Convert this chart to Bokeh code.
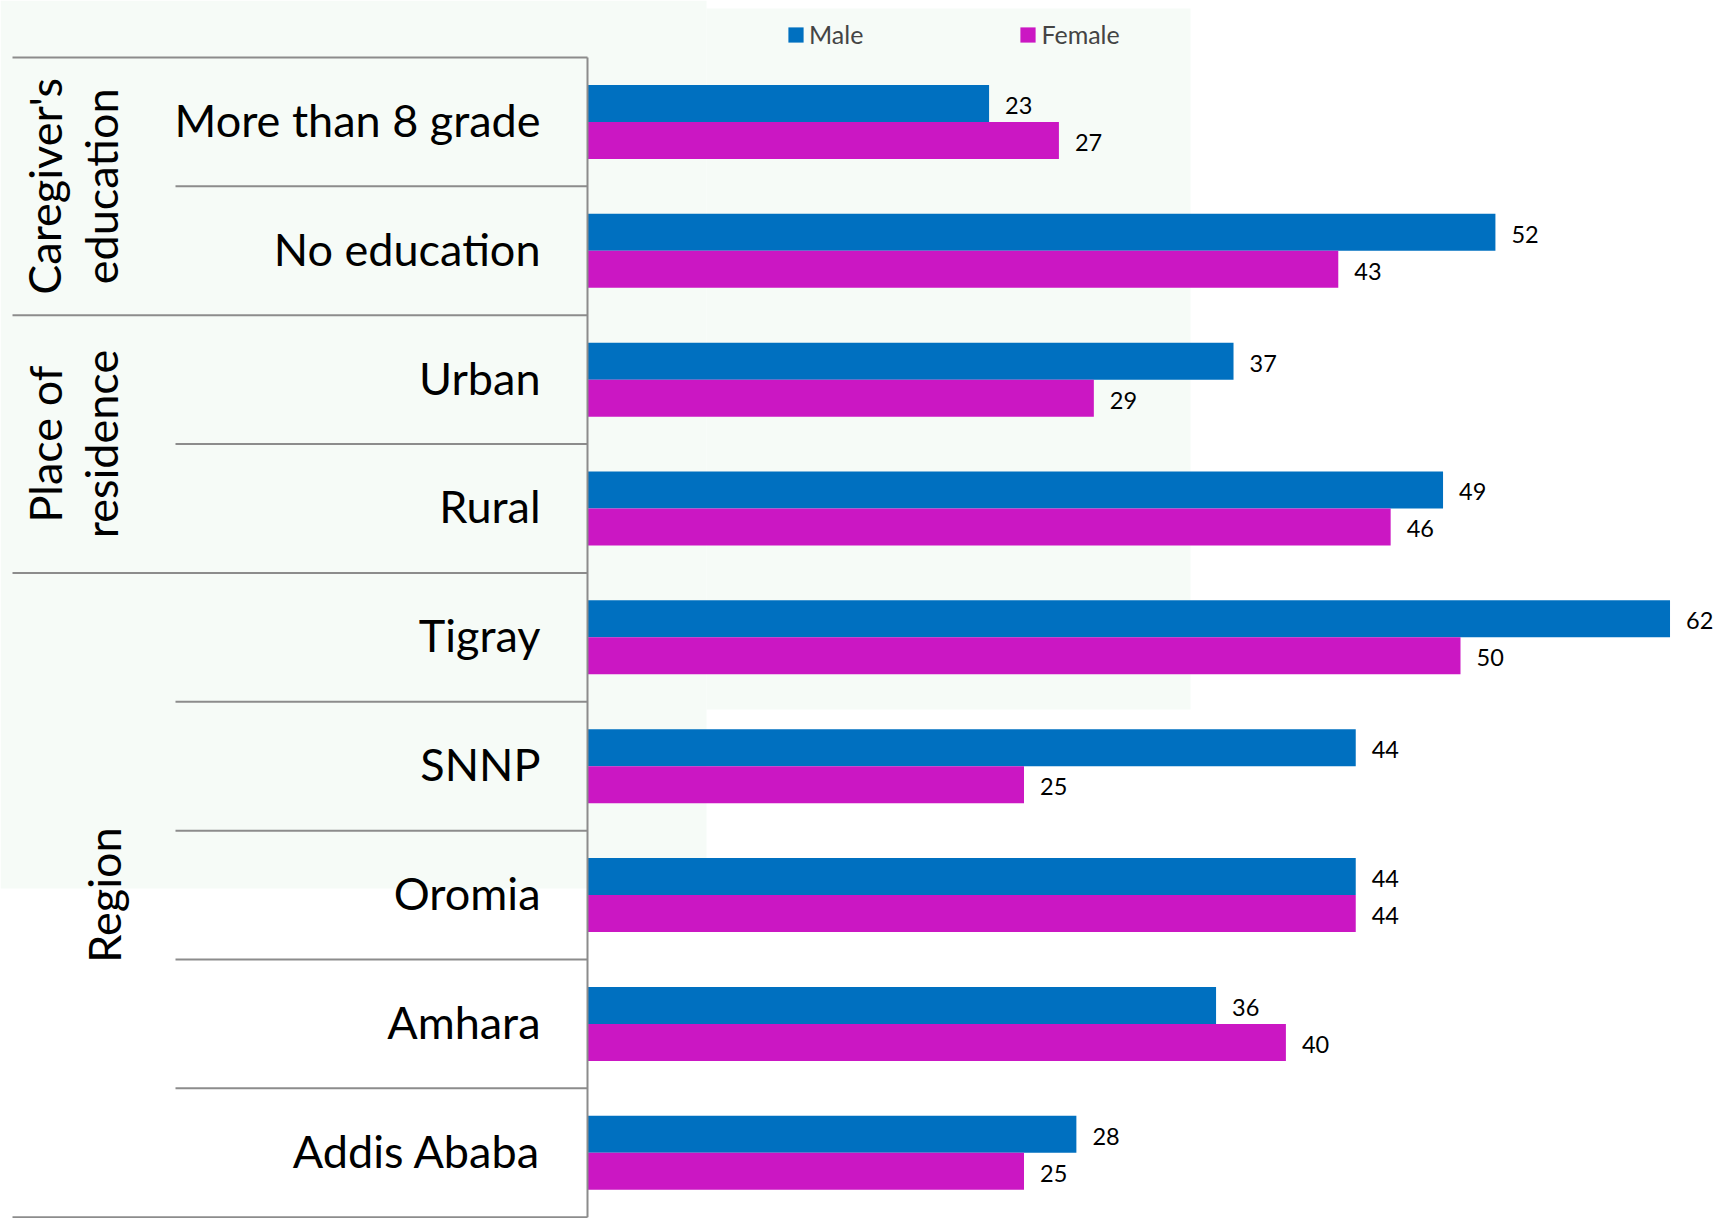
from bokeh.plotting import figure
from bokeh.models import Range1d, ColumnDataSource, Legend, LegendItem
from bokeh.core.properties import value
from bokeh.embed import file_html
from bokeh.resources import INLINE

# --- data -------------------------------------------------------------
categories = ["More than 8 grade", "No education", "Urban", "Rural",
              "Tigray", "SNNP", "Oromia", "Amhara", "Addis Ababa"]
male = [23, 52, 37, 49, 62, 44, 44, 36, 28]
female = [27, 43, 29, 46, 50, 25, 44, 40, 25]
series = ["Male", "Female"]
group_lines = [["Caregiver's", "education"], ["Place of", "residence"], ["Region"]]
group_sizes = [2, 2, 5]

# --- layout constants (pixels) ---------------------------------------
W, H = 1729, 1218
ZERO_PX = 587          # where value 0 sits
PX_PER_UNIT = 17.46    # horizontal scale
TOP_PX = 57            # top of the first category band
ROW_PX = (1216.7 - TOP_PX) / len(categories)
BAR_PX = 37
FONT = "Lato"
MALE_COLOR = "#0070C0"
FEMALE_COLOR = "#CB17C3"
RULE_COLOR = "#8c8c8c"
PANEL_COLOR = "#f6fbf7"


def px_x(px):
    return (px - ZERO_PX) / PX_PER_UNIT


def px_y(py):
    return (py - TOP_PX) / ROW_PX - 0.5


x_range = Range1d(px_x(0), px_x(W))
y_range = Range1d(px_y(H), px_y(0))   # rows grow downwards

p = figure(width=W, height=H, x_range=x_range, y_range=y_range,
           output_backend="svg", toolbar_location=None,
           x_axis_location=None, y_axis_location=None, min_border=0)
p.grid.visible = False
p.outline_line_color = None
p.background_fill_color = "white"
p.border_fill_color = "white"

# faint background panels
p.quad(left=[px_x(0), px_x(706)], right=[px_x(706), px_x(1190)],
       top=[px_y(0), px_y(8)], bottom=[px_y(888), px_y(709)],
       fill_color=PANEL_COLOR, line_color=None)

rows = list(range(len(categories)))
bar_h = BAR_PX / ROW_PX
src = ColumnDataSource(dict(
    cat=categories, row=rows, male=male, female=female,
    male_y=[r - bar_h / 2 for r in rows],
    female_y=[r + bar_h / 2 for r in rows],
    male_txt=[str(v) for v in male],
    female_txt=[str(v) for v in female],
))

rm = p.hbar(y="male_y", left=0, right="male", height=bar_h, source=src,
            fill_color=MALE_COLOR, line_color=None)
rf = p.hbar(y="female_y", left=0, right="female", height=bar_h, source=src,
            fill_color=FEMALE_COLOR, line_color=None)

# value labels
for xcol, ycol, tcol in (("male", "male_y", "male_txt"),
                         ("female", "female_y", "female_txt")):
    p.text(x=xcol, y=ycol, text=tcol, source=src, x_offset=16, y_offset=2,
           text_align="left", text_baseline="middle",
           text_font=value(FONT), text_font_size="23.5px", text_color="black")

# category labels
p.text(x=px_x(540), y="row", text="cat", source=src, y_offset=-2,
       text_align="right", text_baseline="middle",
       text_font=value(FONT), text_font_size="45px", text_color="black")

# separators between categories and groups
group_edges = [0]
for s in group_sizes:
    group_edges.append(group_edges[-1] + s)
x0s, ys = [], []
for b in range(len(categories) + 1):
    x0s.append(px_x(12) if b in group_edges else px_x(175))
    ys.append(b - 0.5)
p.segment(x0=x0s, x1=[0] * len(ys), y0=ys, y1=ys,
          line_color=RULE_COLOR, line_width=2)
# category axis line
p.segment(x0=[0], x1=[0], y0=[-0.5], y1=[len(categories) - 0.5],
          line_color=RULE_COLOR, line_width=2)

# rotated group titles
line_px = {2: [44, 100], 1: [103]}
gx, gy, gt = [], [], []
for lines, start, size in zip(group_lines, group_edges, group_sizes):
    center = start + (size - 1) / 2
    for t, bx in zip(lines, line_px[len(lines)]):
        gx.append(px_x(bx))
        gy.append(center)
        gt.append(t)
p.text(x=gx, y=gy, text=gt, angle=1.5707963, text_align="center",
       text_baseline="alphabetic", text_font=value(FONT),
       text_font_size="45px", text_color="black")

legend = Legend(items=[LegendItem(label=series[0], renderers=[rm]),
                       LegendItem(label=series[1], renderers=[rf])],
                orientation="horizontal", location=(786, H - 49),
                padding=0, margin=0, spacing=155,
                glyph_width=19, glyph_height=19, label_standoff=4,
                label_text_font=FONT, label_text_font_size="25px",
                border_line_color=None, background_fill_alpha=0)
p.add_layout(legend)

open("out.html", "w").write(file_html(p, INLINE))
